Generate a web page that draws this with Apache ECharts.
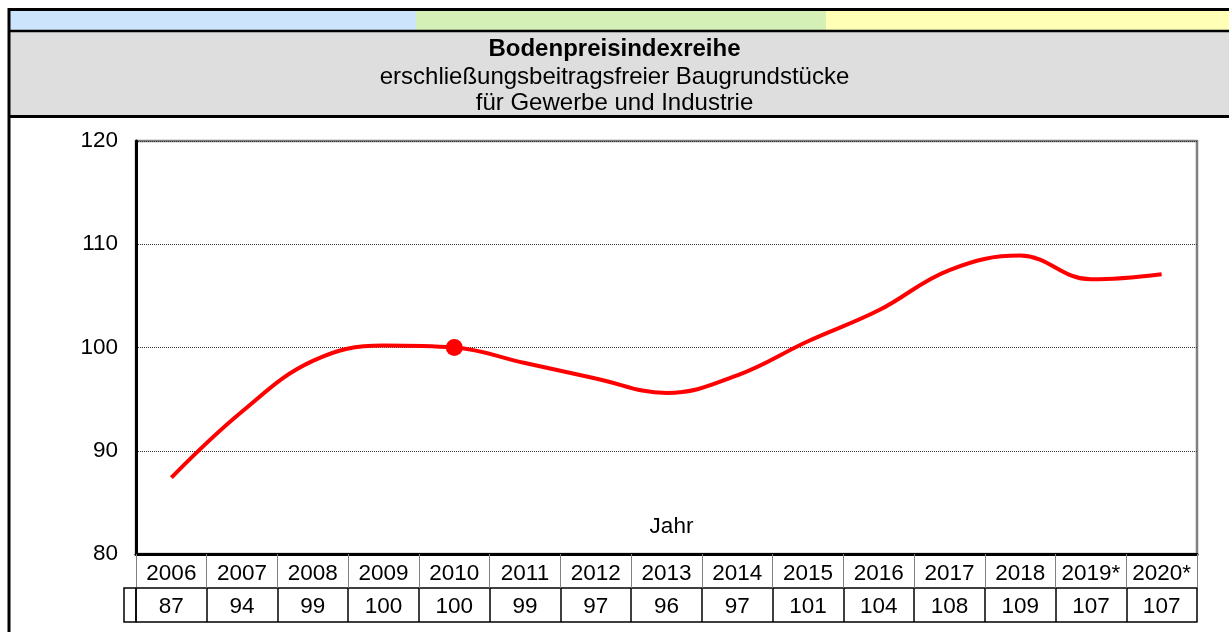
<!DOCTYPE html>
<html lang="de">
<head>
    <meta charset="UTF-8">
    <title>Bodenpreisindexreihe</title>
    <script src="https://cdn.jsdelivr.net/npm/echarts@6/dist/echarts.min.js"></script>
    <style>
        html, body { margin: 0; padding: 0; background: #fff; }
        #charts { width: 1229px; height: 632px; }
    </style>
</head>
<body>
<div id="charts"></div>
<script>
    // Daten
    var years = ['2006', '2007', '2008', '2009', '2010', '2011', '2012', '2013', '2014', '2015', '2016', '2017', '2018', '2019*', '2020*'];
    var indexValues = [87.4, 93.8, 98.7, 100.2, 100.0, 98.5, 97.0, 95.6, 97.3, 100.6, 103.6, 107.5, 108.9, 106.6, 107.1];
    var tableValues = ['87', '94', '99', '100', '100', '99', '97', '96', '97', '101', '104', '108', '109', '107', '107'];
    var baseYear = '2010';

    var font = "'Liberation Sans', Arial, sans-serif";
    var fontSize = 22.5;

    // Diagrammbereich
    var gridLeft = 136, gridRight = 32, gridTop = 141, gridBottom = 78;
    var rowHeight = 34;

    var chart = echarts.init(document.getElementById('charts'));

    var seriesData = indexValues.map(function (v, i) {
        if (years[i] === baseYear) {
            return { value: v, symbol: 'circle', symbolSize: 17 };
        }
        return { value: v, symbol: 'none' };
    });

    function line(x1, y1, x2, y2, w) {
        return { type: 'line', z: 1, shape: { x1: x1, y1: y1, x2: x2, y2: y2 }, style: { stroke: '#000', lineWidth: w } };
    }

    var option = {
        animation: false,
        textStyle: { fontFamily: font, color: '#000' },
        title: {
            text: 'Bodenpreisindexreihe',
            subtext: 'erschließungsbeitragsfreier Baugrundstücke\nfür Gewerbe und Industrie',
            left: 'center',
            top: 29,
            itemGap: 0,
            textStyle: { fontSize: 24, fontWeight: 'bold', color: '#000', lineHeight: 30, fontFamily: font },
            subtextStyle: { fontSize: 24, color: '#000', lineHeight: 26, fontFamily: font }
        },
        graphic: [
            { type: 'rect', z: 0, shape: { x: 10, y: 10, width: 406, height: 21 }, style: { fill: '#cce4fc' } },
            { type: 'rect', z: 0, shape: { x: 416, y: 10, width: 410, height: 21 }, style: { fill: '#d4f0b6' } },
            { type: 'rect', z: 0, shape: { x: 826, y: 10, width: 403, height: 21 }, style: { fill: '#ffffb6' } },
            { type: 'rect', z: 0, shape: { x: 10, y: 32, width: 1219, height: 84 }, style: { fill: '#dedede' } },
            line(8, 9.5, 1229, 9.5, 3),
            line(8, 31, 1229, 31, 2.5),
            line(8, 116.5, 1229, 116.5, 3),
            line(9, 8, 9, 632, 3),
            // leere Legendenzelle links in der Wertezeile
            { type: 'rect', z: 1, shape: { x: gridLeft - 12, y: 632 - gridBottom + rowHeight, width: 12, height: 34 },
              style: { fill: 'none', stroke: '#000', lineWidth: 1.5 } }
        ],
        grid: {
            left: gridLeft,
            right: gridRight,
            top: gridTop,
            bottom: gridBottom,
            show: true,
            borderColor: '#808080',
            borderWidth: 2.5,
            containLabel: false
        },
        xAxis: [
            {
                type: 'category',
                data: years,
                position: 'bottom',
                boundaryGap: true,
                name: 'Jahr',
                nameLocation: 'middle',
                nameGap: -39,
                nameTextStyle: { fontSize: fontSize, color: '#000', padding: [0, 0, 0, 10] },
                axisLine: { show: true, lineStyle: { color: '#000', width: 3 } },
                axisTick: { show: true, interval: 0, length: rowHeight, lineStyle: { color: '#808080', width: 1 } },
                axisLabel: { interval: 0, fontSize: fontSize, color: '#000', margin: 8 },
                splitLine: { show: false }
            },
            {
                type: 'category',
                data: years,
                position: 'bottom',
                offset: rowHeight,
                boundaryGap: true,
                axisLine: { show: true, lineStyle: { color: '#000', width: 1.5 } },
                axisTick: { show: true, interval: 0, length: 34, lineStyle: { color: '#000', width: 1.5 } },
                axisLabel: {
                    interval: 0, fontSize: fontSize, color: '#000', margin: 7,
                    formatter: function (v, i) { return tableValues[i]; }
                }
            },
            {
                type: 'category',
                data: years,
                position: 'bottom',
                offset: rowHeight + 34,
                axisLine: { show: true, lineStyle: { color: '#000', width: 1.5 } },
                axisTick: { show: false },
                axisLabel: { show: false }
            }
        ],
        yAxis: {
            type: 'value',
            min: 80,
            max: 120,
            interval: 10,
            axisLine: { show: true, lineStyle: { color: '#000', width: 3 } },
            axisTick: { show: false },
            axisLabel: { fontSize: fontSize, color: '#000', margin: 18 },
            splitLine: { show: true, lineStyle: { color: '#333', type: [1, 1], width: 1 } }
        },
        series: [
            {
                type: 'line',
                xAxisIndex: 0,
                data: seriesData,
                smooth: 0.4,
                showSymbol: true,
                lineStyle: { color: '#ff0000', width: 4 },
                itemStyle: { color: '#ff0000' },
                z: 5
            }
        ]
    };

    chart.setOption(option);
</script>
</body>
</html>
